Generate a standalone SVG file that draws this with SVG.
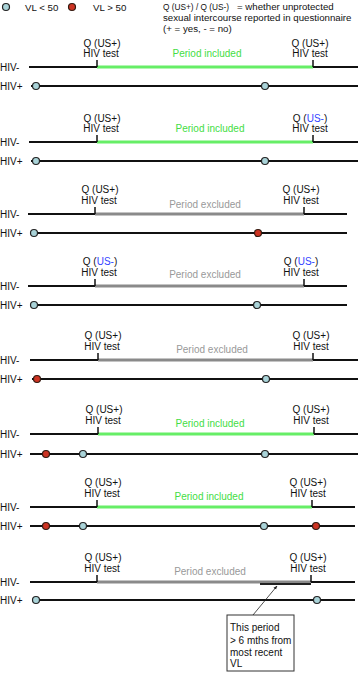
<svg xmlns="http://www.w3.org/2000/svg" width="358" height="674" viewBox="0 0 358 674">
<defs>
<style>
text{font-family:"Liberation Sans",Arial,Helvetica,sans-serif;font-size:10px;fill:#111}
.lg{font-size:9.7px}
.c{text-anchor:middle}
.inc{fill:#44dd44}
.exc{fill:#999}
.b{fill:#3344ff}
.ln{stroke:#111;stroke-width:2;fill:none}
.tk{stroke:#111;stroke-width:1.5}
.gb{stroke:#66ee66;stroke-width:3}
.xb{stroke:#8a8a8a;stroke-width:3}
.cy{fill:#a9d3d8;stroke:#222;stroke-width:1.2}
.rd{fill:#cc3322;stroke:#331a10;stroke-width:1.2}
</style>
<marker id="ah" viewBox="0 0 10 10" refX="9" refY="5" markerWidth="5" markerHeight="5" orient="auto-start-reverse">
<path d="M0,1 L10,5 L0,9 z" fill="#222"/>
</marker>
</defs>
<rect width="358" height="674" fill="#fff"/>

<g id="legend">
<circle class="cy" cx="6" cy="7" r="3.5"/>
<text class="lg" x="25" y="10.5">VL &lt; 50</text>
<circle class="rd" cx="72" cy="7" r="3.5"/>
<text class="lg" x="93" y="10.5">VL &gt; 50</text>
<text class="lg" x="163" y="9.5" textLength="66" lengthAdjust="spacingAndGlyphs">Q (US+) / Q (US-)</text>
<text class="lg" x="237" y="9.5">= whether unprotected</text>
<text class="lg" x="163" y="20.5">sexual intercourse reported in questionnaire</text>
<text class="lg" x="163" y="31.5">(+ = yes, - = no)</text>
</g>

<g id="panel1">
<text x="0" y="70.5">HIV-</text><text x="0" y="89.5">HIV+</text>
<text class="c" x="102" y="46.5">Q (US+)</text><text class="c" x="101" y="56.5">HIV test</text>
<text class="c" x="310" y="46.5">Q (US+)</text><text class="c" x="310" y="56.5">HIV test</text>
<text class="c inc" x="207" y="56.5">Period included</text>
<line class="ln" x1="29" y1="67" x2="358" y2="67"/>
<line class="gb" x1="97" y1="67" x2="313" y2="67"/>
<line class="tk" x1="97" y1="60" x2="97" y2="67"/><line class="tk" x1="313" y1="60" x2="313" y2="67"/>
<line class="ln" x1="31" y1="86" x2="358" y2="86"/>
<circle class="cy" cx="36" cy="86" r="3.5"/><circle class="cy" cx="265" cy="86" r="3.5"/>
</g>

<g id="panel2">
<text x="0" y="145.5">HIV-</text><text x="0" y="164.5">HIV+</text>
<text class="c" x="102" y="121.5">Q (US+)</text><text class="c" x="101" y="131.5">HIV test</text>
<text class="c" x="310" y="121.5">Q (<tspan class="b">US-</tspan>)</text><text class="c" x="310" y="131.5">HIV test</text>
<text class="c inc" x="210" y="131.5">Period included</text>
<line class="ln" x1="29" y1="142" x2="358" y2="142"/>
<line class="gb" x1="97" y1="142" x2="313" y2="142"/>
<line class="tk" x1="97" y1="135" x2="97" y2="142"/><line class="tk" x1="313" y1="135" x2="313" y2="142"/>
<line class="ln" x1="31" y1="161" x2="358" y2="161"/>
<circle class="cy" cx="36" cy="161" r="3.5"/><circle class="cy" cx="265" cy="161" r="3.5"/>
</g>

<g id="panel3">
<text x="0" y="217.5">HIV-</text><text x="0" y="236.5">HIV+</text>
<text class="c" x="100" y="193">Q (US+)</text><text class="c" x="99" y="204">HIV test</text>
<text class="c" x="301" y="193">Q (US+)</text><text class="c" x="301" y="204">HIV test</text>
<text class="c exc" x="205" y="208">Period excluded</text>
<line class="ln" x1="28" y1="214" x2="347" y2="214"/>
<line class="xb" x1="95" y1="214" x2="304" y2="214"/>
<line class="tk" x1="95" y1="207" x2="95" y2="214"/><line class="tk" x1="304" y1="207" x2="304" y2="214"/>
<line class="ln" x1="30" y1="233" x2="347" y2="233"/>
<circle class="cy" cx="34" cy="233" r="3.5"/><circle class="rd" cx="258" cy="233" r="3.5"/>
</g>

<g id="panel4">
<text x="0" y="289.5">HIV-</text><text x="0" y="308.5">HIV+</text>
<text class="c" x="100" y="265">Q (<tspan class="b">US-</tspan>)</text><text class="c" x="99" y="276">HIV test</text>
<text class="c" x="301" y="265">Q (<tspan class="b">US-</tspan>)</text><text class="c" x="301" y="276">HIV test</text>
<text class="c exc" x="205" y="278">Period excluded</text>
<line class="ln" x1="28" y1="286" x2="347" y2="286"/>
<line class="xb" x1="95" y1="286" x2="304" y2="286"/>
<line class="tk" x1="95" y1="279" x2="95" y2="286"/><line class="tk" x1="304" y1="279" x2="304" y2="286"/>
<line class="ln" x1="30" y1="305" x2="347" y2="305"/>
<circle class="cy" cx="34" cy="305" r="3.5"/><circle class="cy" cx="257" cy="305" r="3.5"/>
</g>

<g id="panel5">
<text x="0" y="363.5">HIV-</text><text x="0" y="382.5">HIV+</text>
<text class="c" x="103" y="339">Q (US+)</text><text class="c" x="102" y="350">HIV test</text>
<text class="c" x="311" y="339">Q (US+)</text><text class="c" x="311" y="350">HIV test</text>
<text class="c exc" x="212" y="353">Period excluded</text>
<line class="ln" x1="30" y1="360" x2="358" y2="360"/>
<line class="xb" x1="98" y1="360" x2="313" y2="360"/>
<line class="tk" x1="98" y1="353" x2="98" y2="360"/><line class="tk" x1="313" y1="353" x2="313" y2="360"/>
<line class="ln" x1="32" y1="379" x2="358" y2="379"/>
<circle class="rd" cx="37" cy="379" r="3.5"/><circle class="cy" cx="266" cy="379" r="3.5"/>
</g>

<g id="panel6">
<text x="0" y="437.5">HIV-</text><text x="0" y="457.5">HIV+</text>
<text class="c" x="104" y="413">Q (US+)</text><text class="c" x="103" y="424">HIV test</text>
<text class="c" x="311" y="413">Q (US+)</text><text class="c" x="311" y="424">HIV test</text>
<text class="c inc" x="210" y="427">Period included</text>
<line class="ln" x1="30" y1="434" x2="358" y2="434"/>
<line class="gb" x1="98" y1="434" x2="314" y2="434"/>
<line class="tk" x1="98" y1="427" x2="98" y2="434"/><line class="tk" x1="314" y1="427" x2="314" y2="434"/>
<line class="ln" x1="30" y1="454" x2="358" y2="454"/>
<circle class="rd" cx="46" cy="454" r="3.5"/><circle class="cy" cx="83" cy="454" r="3.5"/><circle class="cy" cx="265" cy="454" r="3.5"/>
</g>

<g id="panel7">
<text x="0" y="510.5">HIV-</text><text x="0" y="529.5">HIV+</text>
<text class="c" x="103" y="486">Q (US+)</text><text class="c" x="102" y="497">HIV test</text>
<text class="c" x="308" y="486">Q (US+)</text><text class="c" x="308" y="497">HIV test</text>
<text class="c inc" x="209" y="500">Period included</text>
<line class="ln" x1="30" y1="507" x2="355" y2="507"/>
<line class="gb" x1="97" y1="507" x2="312" y2="507"/>
<line class="tk" x1="97" y1="500" x2="97" y2="507"/><line class="tk" x1="312" y1="500" x2="312" y2="507"/>
<line class="ln" x1="30" y1="526" x2="355" y2="526"/>
<circle class="rd" cx="46" cy="526" r="3.5"/><circle class="cy" cx="83" cy="526" r="3.5"/><circle class="cy" cx="264" cy="526" r="3.5"/><circle class="rd" cx="316" cy="526" r="3.5"/>
</g>

<g id="panel8">
<text x="0" y="585.5">HIV-</text><text x="0" y="603.5">HIV+</text>
<text class="c" x="103" y="561">Q (US+)</text><text class="c" x="102" y="572">HIV test</text>
<text class="c" x="308" y="561">Q (US+)</text><text class="c" x="308" y="572">HIV test</text>
<text class="c exc" x="210" y="575">Period excluded</text>
<line class="ln" x1="30" y1="582" x2="355" y2="582"/>
<line class="xb" x1="97" y1="582" x2="311" y2="582"/>
<line stroke="#222" stroke-width="2" x1="260" y1="584" x2="311" y2="584"/>
<line class="tk" x1="97" y1="575" x2="97" y2="582"/><line class="tk" x1="311" y1="575" x2="311" y2="582"/>
<line class="ln" x1="32" y1="600" x2="355" y2="600"/>
<circle class="cy" cx="36" cy="600" r="3.5"/><circle class="cy" cx="317" cy="600" r="3.5"/>
</g>

<g id="note">
<rect x="227" y="615" width="67" height="56" fill="#fff" stroke="#333" stroke-width="1"/>
<text x="230" y="631">This period</text>
<text x="230" y="644">&gt; 6 mths from</text>
<text x="230" y="655.5">most recent</text>
<text x="230" y="667">VL</text>
</g>

<g id="connectors">
<line x1="253" y1="615" x2="277" y2="586" stroke="#222" stroke-width="0.8" marker-end="url(#ah)"/>
</g>
</svg>
